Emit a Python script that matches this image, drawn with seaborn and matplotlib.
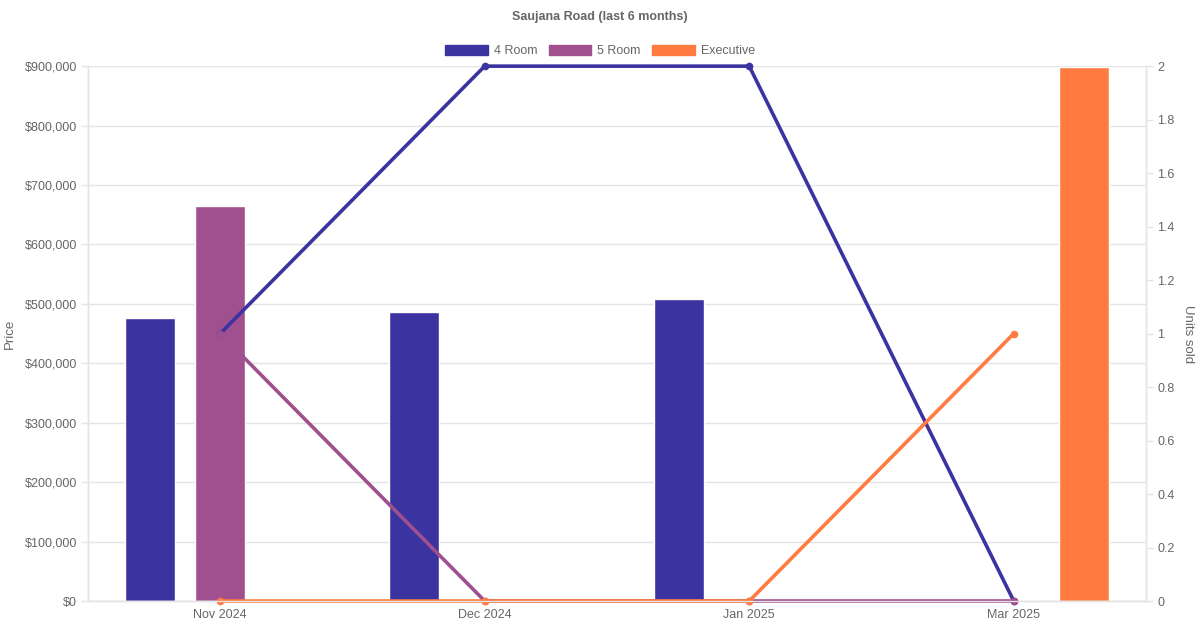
import matplotlib
matplotlib.use("Agg")
import matplotlib.pyplot as plt
from matplotlib.patches import Patch
from matplotlib.ticker import FuncFormatter, MultipleLocator
import numpy as np
import pandas as pd
import seaborn as sns

months = ["Nov 2024", "Dec 2024", "Jan 2025", "Mar 2025"]
flat_types = ["4 Room", "5 Room", "Executive"]
colors = ["#3a33a0", "#a0508f", "#ff7b3f"]

# average price per month (0 = no sale)
price_4room = [477000, 487000, 508000, 0]
price_5room = [665000, 0, 0, 0]
price_exec = [0, 0, 0, 898000]

# units sold per month
units_4room = [1, 2, 2, 0]
units_5room = [1, 0, 0, 0]
units_exec = [0, 0, 0, 1]

price_df = pd.DataFrame({
    "month": months * 3,
    "type": [t for t in flat_types for _ in months],
    "price": price_4room + price_5room + price_exec,
})
units_df = pd.DataFrame({
    "month": months * 3,
    "type": [t for t in flat_types for _ in months],
    "units": units_4room + units_5room + units_exec,
})

sns.set_theme(style="white")
plt.rcParams["font.family"] = ["Liberation Sans", "DejaVu Sans"]
grey = "#666666"
grid = "#e4e4e4"

fig, ax = plt.subplots(figsize=(12, 6.3), dpi=100)
fig.subplots_adjust(left=0.0733, right=0.955, top=0.895, bottom=0.046)

sns.barplot(data=price_df, x="month", y="price", hue="type", order=months,
            hue_order=flat_types, palette=colors, width=0.8, gap=0.29,
            saturation=1, legend=False, ax=ax, zorder=2)

ax.set_ylim(0, 900000)
ax.set_xlim(-0.5, len(months) - 0.5)
ax.yaxis.set_major_locator(MultipleLocator(100000))
ax.yaxis.set_major_formatter(FuncFormatter(lambda v, p: f"${v:,.0f}"))
ax.grid(axis="y", color=grid, linewidth=1, zorder=0)
ax.set_axisbelow(True)
ax.set_xlabel("")
ax.set_ylabel("Price", color=grey, fontsize=9.5, labelpad=6)
ax.tick_params(axis="y", colors=grid, labelcolor=grey, labelsize=9, length=5, width=1, pad=3)
ax.tick_params(axis="x", labelcolor=grey, labelsize=9, length=0, pad=6)

ax2 = ax.twinx()
for t, c in zip(flat_types, colors):
    sub = units_df[units_df["type"] == t]
    sns.lineplot(data=sub, x="month", y="units", color=c, linewidth=2.6,
                 marker="o", markersize=5.5, markeredgewidth=0, ax=ax2,
                 clip_on=False)
ax2.set_ylim(0, 2)
ax2.set_xlim(-0.5, len(months) - 0.5)
ax2.yaxis.set_major_locator(MultipleLocator(0.2))
ax2.yaxis.set_major_formatter(FuncFormatter(lambda v, p: f"{v:g}"))
ax2.set_ylabel("Units sold", color=grey, fontsize=9.5, rotation=270, labelpad=14)
ax2.tick_params(axis="y", colors=grid, labelcolor=grey, labelsize=9, length=5, width=1, pad=3)

for a in (ax, ax2):
    for side in ("left", "right", "bottom"):
        a.spines[side].set_color(grid)
        a.spines[side].set_linewidth(1)
    a.spines["top"].set_visible(False)

handles = [Patch(facecolor=c, edgecolor=c, label=t) for t, c in zip(flat_types, colors)]
fig.legend(handles=handles, loc="center", bbox_to_anchor=(0.5, 0.919), ncol=3,
           frameon=False, fontsize=9, labelcolor=grey, handlelength=3.4,
           handleheight=0.9, columnspacing=0.9, handletextpad=0.5)
fig.suptitle("Saujana Road (last 6 months)", y=0.982, fontsize=9, fontweight="bold", color=grey)

fig.savefig("out.png", dpi=100)
